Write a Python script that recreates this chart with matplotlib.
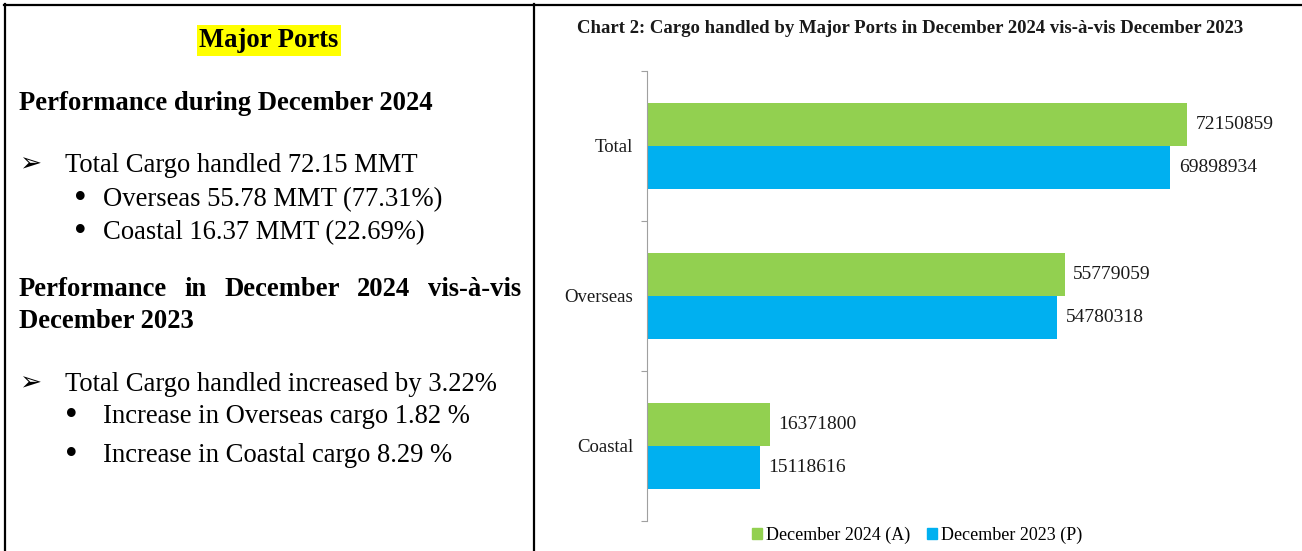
import numpy as np
import matplotlib.pyplot as plt
from matplotlib.patches import Patch

plt.rcParams['font.family'] = ['Liberation Serif', 'DejaVu Sans']

W, H = 1302, 551

categories = ['Total', 'Overseas', 'Coastal']
dec_2024 = [72150859, 55779059, 16371800]
dec_2023 = [69898934, 54780318, 15118616]
series_names = ['December 2024 (A)', 'December 2023 (P)']
series_colors = ['#92D050', '#00B0F0']
chart_title = 'Chart 2: Cargo handled by Major Ports in December 2024 vis-à-vis December 2023'

heading = 'Major Ports'
section1 = 'Performance during December 2024'
section1_main = 'Total Cargo handled 72.15 MMT'
section1_subs = ['Overseas 55.78 MMT (77.31%)', 'Coastal 16.37 MMT (22.69%)']
section2_line1 = 'Performance in December 2024 vis-à-vis'
section2_line2 = 'December 2023'
section2_main = 'Total Cargo handled increased by 3.22%'
section2_subs = ['Increase in Overseas cargo 1.82 %', 'Increase in Coastal cargo 8.29 %']


def fx(x):
    return x / W


def fy(y):
    return 1 - y / H


fig = plt.figure(figsize=(W / 100, H / 100), dpi=100)

# frame lines of the page table
for xs, ys in [((4, W), (5, 5)), ((5, 5), (4, H)), ((534, 534), (4, H))]:
    fig.add_artist(plt.Line2D([fx(xs[0]), fx(xs[1])], [fy(ys[0]), fy(ys[1])],
                              color='black', lw=1.6, transform=fig.transFigure))

# left panel text
FS = 19.2
fig.text(fx(269), fy(47), heading, ha='center', va='baseline', fontsize=FS,
         fontweight='bold',
         bbox=dict(facecolor='#FFFF00', edgecolor='none', boxstyle='square,pad=0.1'))
fig.text(fx(19), fy(110), section1, ha='left', va='baseline', fontsize=FS, fontweight='bold')

fig.text(fx(19), fy(171), '➢', ha='left', va='baseline', fontsize=19,
         family=['DejaVu Sans'])
fig.text(fx(65), fy(172), section1_main, ha='left', va='baseline', fontsize=FS)
for i, s in enumerate(section1_subs):
    yb = [206, 239][i]
    fig.text(fx(74), fy(yb + 2), '•', ha='left', va='baseline', fontsize=26)
    fig.text(fx(103), fy(yb), s, ha='left', va='baseline', fontsize=FS)

# justified heading line
renderer = fig.canvas.get_renderer()
words = section2_line1.split()
widths = []
for w in words:
    t = fig.text(0, 0, w, fontsize=FS, fontweight='bold')
    widths.append(t.get_window_extent(renderer).width)
    t.remove()
left, right = 19, 521
gap = (right - left - sum(widths)) / (len(words) - 1)
x = left
for w, wd in zip(words, widths):
    fig.text(fx(x), fy(296), w, ha='left', va='baseline', fontsize=FS, fontweight='bold')
    x += wd + gap
fig.text(fx(19), fy(328), section2_line2, ha='left', va='baseline', fontsize=FS,
         fontweight='bold')

fig.text(fx(19), fy(390), '➢', ha='left', va='baseline', fontsize=19,
         family=['DejaVu Sans'])
fig.text(fx(65), fy(391), section2_main, ha='left', va='baseline', fontsize=FS)
for i, s in enumerate(section2_subs):
    yb = [423, 462][i]
    fig.text(fx(65), fy(yb + 2), '•', ha='left', va='baseline', fontsize=26)
    fig.text(fx(103), fy(yb), s, ha='left', va='baseline', fontsize=FS)

# chart
fig.text(fx(910), fy(33), chart_title, ha='center', va='baseline', fontsize=13.5,
         fontweight='bold', color='#1a1a1a')

ax = fig.add_axes([fx(647), fy(521), 599 / W, 450 / H])
pos = np.arange(len(categories))[::-1]
h = 0.287
ax.barh(pos + h / 2, dec_2024, height=h, color=series_colors[0], label=series_names[0])
ax.barh(pos - h / 2, dec_2023, height=h, color=series_colors[1], label=series_names[1])
for p, a, b in zip(pos, dec_2024, dec_2023):
    ax.annotate(str(a), (a, p + h / 2), xytext=(6, 0), textcoords='offset points',
                va='center', ha='left', fontsize=14, color='#1a1a1a')
    ax.annotate(str(b), (b, p - h / 2), xytext=(6, 0), textcoords='offset points',
                va='center', ha='left', fontsize=14, color='#1a1a1a')

ax.set_xlim(0, 80e6)
ax.set_ylim(-0.5, len(categories) - 0.5)
ax.set_xticks([])
ax.set_yticks(np.arange(-0.5, len(categories), 1.0))
ax.set_yticklabels([])
ax.set_yticks(pos, minor=True)
ax.set_yticklabels(categories, minor=True, fontsize=13.5, color='#1a1a1a')
ax.tick_params(axis='y', which='major', length=4, color='#a0a0a0')
ax.tick_params(axis='y', which='minor', length=0, pad=10)
for s in ['top', 'right', 'bottom']:
    ax.spines[s].set_visible(False)
ax.spines['left'].set_color('#a0a0a0')
ax.patch.set_visible(False)

handles = [Patch(color=c, label=n) for c, n in zip(series_colors, series_names)]
fig.legend(handles=handles, loc='center', bbox_to_anchor=(fx(917), fy(535)), ncol=2,
           frameon=False, fontsize=13, handlelength=0.55, handleheight=0.55,
           handletextpad=0.25, columnspacing=0.9)

fig.savefig('out.png', dpi=100)
